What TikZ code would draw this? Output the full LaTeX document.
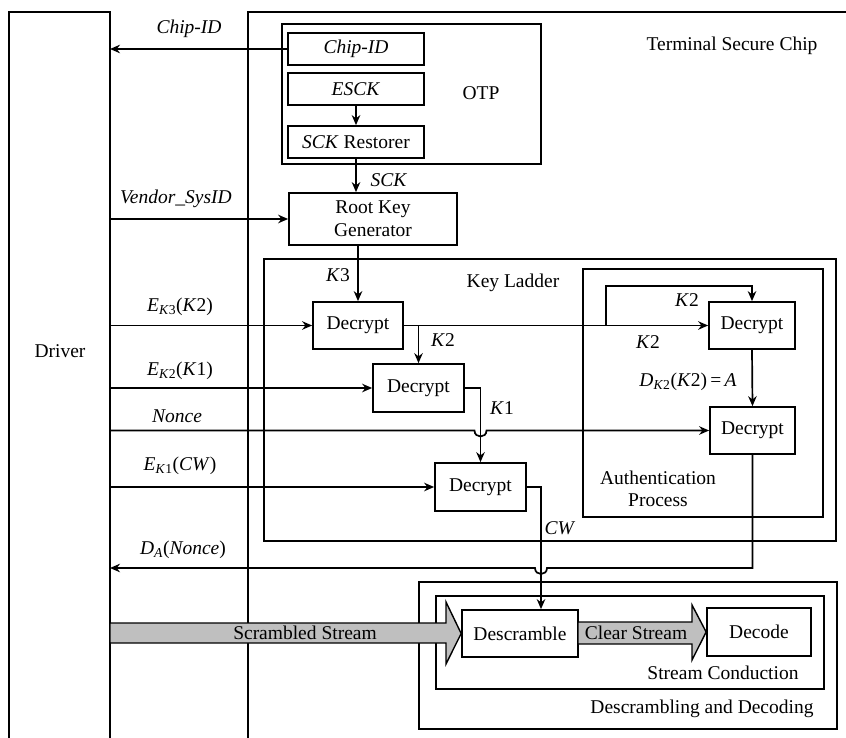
\documentclass[tikz,border=0pt]{standalone}
\usepackage{fontspec}
\setmainfont{Liberation Serif}
\usetikzlibrary{arrows.meta}
% key names such as K3: italic letter, upright index
\newcommand{\keyname}[1]{\textit{K}#1}
\newcommand{\fsub}[1]{\textsubscript{#1}}
\begin{document}
\begin{tikzpicture}[x=1pt,y=-1pt,line width=1.7pt,
  font=\fontsize{19.5}{22}\selectfont,
  blk/.style={draw,rectangle,inner sep=0pt,minimum width=#1},
  frame/.style={draw,rectangle,inner sep=0pt},
  lbl/.style={inner sep=0pt},
  arr/.style={-{Stealth[length=10pt,width=8.5pt]}},
  stream/.style={draw,line width=1.4pt,fill=gray!50,line join=miter}]
\useasboundingbox (0,0) rectangle (846,738);

% outer frames: driver and chip (open at the page border)
\draw (9,738) -- (9,12) -- (110,12) -- (110,738);
\draw (248,738) -- (248,12) -- (846,12);
\coordinate (drvR) at (110,0);
\node[lbl] (drvtxt) at (60,351) {Driver};
\node[lbl] (chiptxt) at (732,46) {Terminal Secure Chip};

% OTP block
\node[frame,minimum width=259,minimum height=140] (otp) at (411.5,94) {};
\node[lbl] (otptxt) at (481,93) {OTP};
\node[blk=136,minimum height=32] (chipid) at (356,49) {\textit{Chip-ID}};
\node[blk=136,minimum height=32] (esck) at (356,89) {\textit{ESCK}};
\node[blk=136,minimum height=32] (rest) at (356,142) {\textit{SCK} Restorer};
\draw[arr] (esck.south) -- (rest.north);

% root key generator
\node[blk=168,minimum height=52,align=center,font=\fontsize{19.5}{23}\selectfont] (rkg) at (373,219) {Root Key\\Generator};
\draw[arr] (rest.south) -- (rest.south |- rkg.north);
\node[lbl] (scktxt) at (389,180) {\textit{SCK}};

% key ladder and authentication frames
\node[frame,minimum width=572,minimum height=282] (ladder) at (550,400) {};
\node[lbl] (laddertxt) at (513,283) {Key Ladder};
\node[frame,minimum width=240,minimum height=248] (auth) at (703,393) {};
\node[lbl,align=center] (authtxt) at (658,489) {Authentication\\Process};

% decrypt stages
\node[blk=90,minimum height=47] (d1) at (358,325.5) {Decrypt};
\node[blk=91,minimum height=48] (d2) at (418.5,388) {Decrypt};
\node[blk=91,minimum height=48] (d3) at (480.5,487) {Decrypt};
\node[blk=86,minimum height=47] (d4) at (752,325.5) {Decrypt};
\node[blk=85,minimum height=47] (d5) at (752.5,430.5) {Decrypt};

% descrambling and decoding frames
\node[frame,minimum width=418,minimum height=147] (dd) at (628,655.5) {};
\node[lbl] (ddtxt) at (702,709) {Descrambling and Decoding};
\node[frame,minimum width=388,minimum height=93] (sc) at (630,642.5) {};
\node[lbl] (sctxt) at (723,673) {Stream Conduction};
\node[blk=116,minimum height=47] (desc) at (520,633.5) {Descramble};
\node[blk=104,minimum height=48] (dec) at (759,632) {Decode};

% signals between driver and chip
\draw[arr] (chipid.west) -- (chipid.west -| drvR);
\node[lbl] (l1) at (189,29) {\textit{Chip-ID}};
\draw[arr] (drvR |- rkg.west) -- (rkg.west);
\node[lbl] (l2) at (176,199) {\textit{Vendor\_SysID}};
\draw[arr] (rkg.south -| d1.north) -- (d1.north);
\node[lbl] (l3) at (338,275) {\keyname{3}};

\draw[arr] (drvR |- d1.west) -- (d1.west);
\node[lbl] (l4) at (180,307) {\textit{E}\fsub{\keyname{3}}(\keyname{2})};
\draw[arr] (drvR |- d2.west) -- (d2.west);
\node[lbl] (l5) at (180,371) {\textit{E}\fsub{\keyname{2}}(\keyname{1})};
\coordinate (hop1) at (d3.north |- d5.west);
\draw[arr] (drvR |- d5.west) -- ([xshift=-6]hop1)
  .. controls ([xshift=-6,yshift=-8]hop1) and ([xshift=6,yshift=-8]hop1) .. ([xshift=6]hop1)
  -- (d5.west);
\node[lbl] (l6) at (177,416) {\textit{Nonce}};
\draw[arr] (drvR |- d3.west) -- (d3.west);
\node[lbl] (l7) at (180,466) {\textit{E}\fsub{\keyname{1}}(\textit{CW})};

% key ladder internals
\draw[arr] (d1.east) -- (d4.west);
\draw[arr] (d1.east -| d2.north) -- (d2.north);
\node[lbl] (l8) at (443,340) {\keyname{2}};
\coordinate (kbr) at (606,325.5);
\draw[arr] (kbr) -- (606,286) -| (d4.north);
\node[lbl] (l9) at (687,300) {\keyname{2}};
\node[lbl] (l10) at (648,342) {\keyname{2}};
\draw[arr] (d4.south) -- (d5.north);
\node[lbl] (l11) at (688,382) {\textit{D}\fsub{\keyname{2}}(\keyname{2})\,=\,\textit{A}};
\draw[arr] (d2.east) -| (d3.north);
\node[lbl] (l12) at (502,408) {\keyname{1}};

% control word to the descrambler
\coordinate (cwturn) at (541,487);
\draw[arr] (d3.east) -- (cwturn) -- (cwturn |- desc.north);
\node[lbl] (l13) at (560,528) {\textit{CW}};

% authentication answer back to the driver
\coordinate (ret) at (752.5,568);
\coordinate (hop2) at (541,568);
\draw[arr] (d5.south) -- (ret) -- ([xshift=6]hop2)
  .. controls ([xshift=6,yshift=-8]hop2) and ([xshift=-6,yshift=-8]hop2) .. ([xshift=-6]hop2)
  -- (ret -| drvR);
\node[lbl] (l14) at (183,550) {\textit{D}\fsub{\textit{A}}(\textit{Nonce})};

% stream arrows
\draw[stream] (drvR |- 0,623) -- (446,623) -- (446,602) -- (desc.west) -- (446,664) -- (446,643) -- (drvR |- 0,643) -- cycle;
\node[lbl] (sstxt) at (305,633) {Scrambled Stream};
\draw[stream] (578,622) -- (692,622) -- (692,605) -- (dec.west) -- (692,660) -- (692,644) -- (578,644) -- cycle;
\node[lbl] (cstxt) at (636,633) {Clear Stream};
\end{tikzpicture}
\end{document}
